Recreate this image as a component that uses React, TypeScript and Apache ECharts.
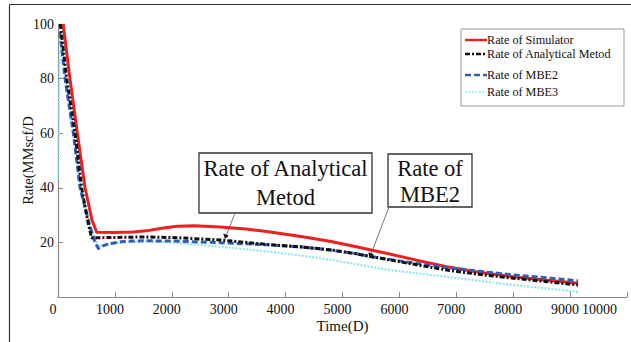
import React, { useEffect, useRef } from "react";
import * as echarts from "echarts";

const seriesNames = [
  "Rate of Simulator",
  "Rate of Analytical Metod",
  "Rate of MBE2",
  "Rate of MBE3",
];

const simT = [90, 210, 340, 475, 600, 680, 1000, 1320, 1600, 1850, 2100, 2400, 2850, 3300, 3700, 4300, 4800, 5200, 5500, 5750, 6300, 6830, 7400, 8000, 8600, 9140];
const simQ = [100, 80, 60, 40, 28, 23.7, 23.6, 23.8, 24.4, 25.3, 25.9, 26.1, 25.6, 24.9, 23.9, 22.1, 20.3, 18.6, 17.2, 16.1, 13.5, 11.1, 9.1, 7.4, 6.1, 5.0];

const anaT = [40, 152, 300, 415, 520, 590, 1000, 1500, 2000, 2850, 3700, 4300, 4800, 5200, 5500, 5750, 6300, 6830, 7400, 8000, 8600, 9140];
const anaQ = [100, 80, 60, 40, 28, 21.7, 21.8, 22, 21.8, 20.9, 19.2, 18.3, 17.2, 16.0, 14.8, 13.9, 11.8, 9.9, 8.3, 6.9, 5.6, 4.4];

const mbe2T = [35, 123, 270, 387, 560, 650, 710, 800, 900, 1140, 1500, 2000, 2850, 3700, 4300, 4800, 5200, 5500, 5750, 6300, 6830, 7400, 8000, 8600, 9140];
const mbe2Q = [97, 80, 60, 40, 26, 20, 17.8, 18.8, 19.5, 20.3, 20.6, 20.5, 19.9, 19.1, 18.3, 17.2, 16.0, 14.8, 14.0, 12.3, 10.8, 9.4, 8.1, 7.0, 5.9];

const mbe3T = [0, 35, 123, 270, 387, 560, 710, 900, 1140, 1500, 2000, 2850, 3300, 3700, 4300, 4800, 5300, 5750, 6300, 6830, 7400, 8000, 8600, 9140];
const mbe3Q = [43, 97, 80, 60, 40, 26, 18.5, 19.5, 20, 20.3, 20, 18.4, 17.5, 16.6, 15.1, 13.6, 11.8, 10.1, 8.7, 7.4, 5.9, 4.4, 3.1, 1.9];

const xMin = 0;
const xMax = 10000;
const xInterval = 1000;
const yMin = 0;
const yMax = 100;
const yInterval = 20;

const zip = (t: number[], q: number[]) => t.map((v, i) => [v, q[i]]);

const SERIF = "Liberation Serif";

export default function App() {
  const ref = useRef<HTMLDivElement>(null);
  useEffect(() => {
    if (!ref.current) return;
    const chart = echarts.init(ref.current, undefined, { renderer: "svg" });
    const colors = ["#f01e1e", "#111111", "#2f5fb8", "#8fe6f2"];
    const dashes: any[] = ["solid", [5, 2, 2, 2], [6, 3], [2, 1.5]];
    const widths = [3, 3, 3, 2.2];
    const legendY = [40, 54, 75, 92];
    const legendItems: any[] = [];
    seriesNames.forEach((n, i) => {
      legendItems.push({
        type: "line",
        shape: { x1: 465, y1: legendY[i], x2: 487, y2: legendY[i] },
        style: { stroke: colors[i], lineWidth: i === 3 ? 1.6 : 2.4, lineDash: dashes[i] === "solid" ? null : dashes[i] },
      });
      legendItems.push({
        type: "text",
        x: 487,
        y: legendY[i],
        style: { text: n, fill: "#111", fontFamily: SERIF, fontSize: 12.2, verticalAlign: "middle" },
      });
    });

    const bigText = (text: string, x: number, y: number) => ({
      type: "text",
      x,
      y,
      scaleX: 0.94,
      style: { text, fill: "#111", fontFamily: SERIF, fontSize: 24, align: "center", verticalAlign: "middle" },
    });

    const option: any = {
      animation: false,
      backgroundColor: "#ffffff",
      grid: { left: 58, right: 4, top: 24, bottom: 45, outerBoundsMode: "none", containLabel: false },
      xAxis: {
        type: "value",
        min: xMin,
        max: xMax,
        interval: xInterval,
        name: "Time(D)",
        nameLocation: "middle",
        nameGap: 21,
        nameMoveOverlap: false,
        nameTextStyle: { fontFamily: SERIF, fontSize: 15, color: "#111" },
        axisLine: { show: true, lineStyle: { color: "#888", width: 1.2 } },
        axisTick: { show: true, inside: true, length: 5, lineStyle: { color: "#888" } },
        axisLabel: {
          fontFamily: SERIF,
          fontSize: 14,
          color: "#111",
          margin: 5,
          padding: [0, 10, 0, 0],
          alignMaxLabel: "right",
          formatter: (v: number) => String(v),
        },
        splitLine: { show: false },
      },
      yAxis: {
        type: "value",
        min: yMin,
        max: yMax,
        interval: yInterval,
        name: "Rate(MMscf/D",
        nameLocation: "middle",
        nameGap: 23,
        nameMoveOverlap: false,
        nameRotate: 90,
        nameTextStyle: { fontFamily: SERIF, fontSize: 14.5, color: "#111" },
        axisLine: { show: true, lineStyle: { color: "#888", width: 1.2 } },
        axisTick: { show: true, inside: true, length: 5, lineStyle: { color: "#888" } },
        axisLabel: {
          fontFamily: SERIF,
          fontSize: 14,
          color: "#111",
          margin: 4,
          formatter: (v: number) => (v === 0 ? "" : String(v)),
        },
        splitLine: { show: false },
      },
      series: [
        { idx: 3, data: zip(mbe3T, mbe3Q) },
        { idx: 0, data: zip(simT, simQ) },
        { idx: 2, data: zip(mbe2T, mbe2Q) },
        { idx: 1, data: zip(anaT, anaQ) },
      ].map((s) => ({
        name: seriesNames[s.idx],
        type: "line",
        data: s.data,
        showSymbol: false,
        symbol: "none",
        smooth: false,
        lineStyle: { color: colors[s.idx], width: widths[s.idx], type: dashes[s.idx], join: "round" },
      })),
      graphic: [
        { type: "line", shape: { x1: 9.5, y1: 4.5, x2: 631, y2: 4.5 }, style: { stroke: "#333", lineWidth: 1.2 } },
        { type: "line", shape: { x1: 9.5, y1: 4.5, x2: 9.5, y2: 342 }, style: { stroke: "#333", lineWidth: 1.2 } },
        { type: "rect", shape: { x: 461, y: 29, width: 163, height: 77 }, style: { fill: "#fff", stroke: "#999", lineWidth: 1 } },
        ...legendItems,
        { type: "rect", shape: { x: 199, y: 153, width: 173, height: 60 }, style: { fill: "#fff", stroke: "#333", lineWidth: 1.3 } },
        bigText("Rate of Analytical", 285.5, 168),
        bigText("Metod", 285.5, 197),
        { type: "line", shape: { x1: 235, y1: 213, x2: 226.5, y2: 235 }, style: { stroke: "#777", lineWidth: 1 } },
        { type: "polygon", shape: { points: [[225, 239], [223.2, 233.5], [228.8, 235.5]] }, style: { fill: "#111" } },
        { type: "rect", shape: { x: 388, y: 154, width: 84, height: 53 }, style: { fill: "#fff", stroke: "#333", lineWidth: 1.3 } },
        bigText("Rate of", 430, 168),
        bigText("MBE2", 430, 194),
        { type: "line", shape: { x1: 389, y1: 207, x2: 371, y2: 254 }, style: { stroke: "#777", lineWidth: 1 } },
        { type: "polygon", shape: { points: [[369.5, 258], [368.3, 252.3], [373.7, 254.3]] }, style: { fill: "#111" } },
      ],
    };
    chart.setOption(option);
    return () => chart.dispose();
  }, []);
  return (
    <div
      ref={ref}
      style={{ position: "fixed", left: 0, top: 0, width: 631, height: 342, background: "#fff" }}
    />
  );
}
